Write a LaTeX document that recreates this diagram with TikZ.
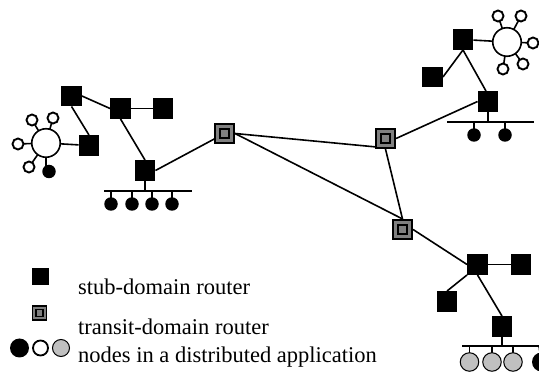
\documentclass[tikz,border=0pt]{standalone}
\usepackage{fontspec}
\setmainfont{Liberation Serif}
\usetikzlibrary{backgrounds,calc}
\definecolor{tgray}{RGB}{128,128,128}
\definecolor{lgray}{RGB}{192,192,192}
\begin{document}
\begin{tikzpicture}[x=1pt,y=-1pt,
  link/.style={line width=1.6pt,draw=black},
  stub/.style={rectangle,fill=black,minimum size=20.5pt,inner sep=0pt},
  legstub/.style={rectangle,fill=black,minimum size=17pt,inner sep=0pt},
  transit/.style={rectangle,draw=black,line width=1.8pt,fill=tgray,minimum size=19.3pt,inner sep=0pt,
    path picture={\draw[line width=1.8pt,fill=tgray]
      ([shift={(-4.6pt,-4.6pt)}]path picture bounding box.center) rectangle
      ([shift={(4.6pt,4.6pt)}]path picture bounding box.center);}},
  legtransit/.style={rectangle,draw=black,line width=1.5pt,fill=tgray,minimum size=14pt,inner sep=0pt,
    path picture={\draw[line width=1.4pt,fill=tgray]
      ([shift={(-3.6pt,-3.6pt)}]path picture bounding box.center) rectangle
      ([shift={(3.6pt,3.6pt)}]path picture bounding box.center);}},
  hub/.style={circle,draw=black,line width=1.6pt,fill=white,minimum size=28.5pt,inner sep=0pt},
  opennode/.style={circle,draw=black,line width=1.9pt,fill=white,minimum size=11pt,inner sep=0pt},
  fullnode/.style={circle,fill=black,minimum size=13.5pt,inner sep=0pt},
  graynode/.style={circle,draw=black,line width=1pt,fill=lgray,minimum size=18.5pt,inner sep=0pt},
  legtext/.style={anchor=base west,inner sep=0pt,font=\fontsize{22.5}{27}\selectfont}
]
\clip (0,0) rectangle (539,374);

% ---------- left stub domain ----------
\node[stub] (a) at (71.5,96) {};
\node[stub] (b) at (120.5,108.5) {};
\node[stub] (c) at (163,108.5) {};
\node[stub] (d) at (89,145.5) {};
\node[stub] (e) at (145,170.5) {};
\node[hub] (lc) at (46,143) {};
\node[opennode] (l1) at (32,120) {};
\node[opennode] (l2) at (53,118) {};
\node[opennode] (l3) at (18,144) {};
\node[opennode] (l4) at (29,167) {};
\node[fullnode] (l5) at (49,171.5) {};
\coordinate (lb1) at (104,191);
\coordinate (lb2) at (192,191);
\coordinate (le) at (145,191);
\node[fullnode] (lf1) at (111,204) {};
\node[fullnode] (lf2) at (132,204) {};
\node[fullnode] (lf3) at (152,204) {};
\node[fullnode] (lf4) at (172,204) {};

% ---------- transit routers ----------
\node[transit] (t1) at (224.5,133.5) {};
\node[transit] (t2) at (385.5,138.5) {};
\node[transit] (t3) at (402.5,229.5) {};

% ---------- top right stub domain ----------
\node[stub] (f) at (463,39.5) {};
\node[stub] (g) at (432.5,77) {};
\node[stub] (h) at (488,101.5) {};
\node[hub] (rc) at (507,42) {};
\node[opennode] (r1) at (498,16) {};
\node[opennode] (r2) at (521,16) {};
\node[opennode] (r3) at (533,43) {};
\node[opennode] (r4) at (523,64) {};
\node[opennode] (r5) at (503,69) {};
\coordinate (rb1) at (447,122);
\coordinate (rb2) at (534,122);
\coordinate (rh) at (488,122);
\node[fullnode] (rf1) at (474,135) {};
\node[fullnode] (rf2) at (505,135) {};

% ---------- bottom right stub domain ----------
\node[stub] (i) at (477.5,264.5) {};
\node[stub] (j) at (521,264.5) {};
\node[stub] (k) at (447,301.5) {};
\node[stub] (l) at (502,326.5) {};
\coordinate (bb1) at (462,346);
\coordinate (bb2) at (545,346);
\coordinate (bl) at (502,346);
\node[graynode] (g1) at (469.5,362) {};
\node[graynode] (g2) at (492,362) {};
\node[graynode] (g3) at (513,362) {};
\node[fullnode,minimum size=19pt] (g4) at (541.5,362) {};
\coordinate (g4top) at (539,346);

% ---------- connectors ----------
\begin{scope}[on background layer]
  % left
  \draw[link] (a.east) -- (b.west);
  \draw[link] (a.south) -- (d.north);
  \draw[link] (b.south) -- (e.north);
  \draw[link] (b) -- (c);
  \draw[link] (d) -- (lc);
  \foreach \n in {l1,l2,l3,l4} \draw[link] (lc.center) -- (\n.center);
  \draw[link] (lc.center) -- (lc.center |- l5.center);
  \draw[link] (lb1) -- (lb2);
  \draw[link] (e.south) -- (le);
  \foreach \n in {lf1,lf2,lf3,lf4} \draw[link] (\n.center |- lb1) -- (\n.center);
  \draw[link] (e.east) -- (t1.center);
  % transit
  \draw[link] (t1.east) -- ($(t2.south west)+(2,-2)$);
  \draw[link] (t1.east) -- (t3.north);
  \draw[link] (t2.south) -- (t3.north);
  % top right
  \draw[link] (t2.east) -- (h.west);
  \draw[link] (f.south) -- (g.east);
  \draw[link] (f.south) -- ($(h.north)+(-2,0)$);
  \draw[link] (f) -- (rc);
  \foreach \n in {r1,r2,r3,r4,r5} \draw[link] (rc.center) -- (\n.center);
  \draw[link] (rb1) -- (rb2);
  \draw[link] (h.south) -- (rh);
  \foreach \n in {rf1,rf2} \draw[link] (\n.center |- rb1) -- (\n.center);
  % bottom right
  \draw[link] (t3.east) -- (i.west);
  \draw[link] (i) -- (j);
  \draw[link] (i.south west) -- (k.north);
  \draw[link] (i.south) -- (l.north);
  \draw[link] (bb1) -- (bb2);
  \draw[link] (l.south) -- (bl);
  \foreach \n in {g1,g2,g3} \draw[link] (\n.center |- bb1) -- (\n.center);
  \draw[link] (g4top) -- (g4.center);
\end{scope}

% ---------- legend ----------
\node[legstub] (ks) at (40,277) {};
\node[legtransit] (kt) at (39.5,313) {};
\node[fullnode,minimum size=19pt] (kc1) at (19.5,348) {};
\node[circle,draw=black,line width=1.8pt,fill=white,minimum size=15pt,inner sep=0pt] (kc2) at (40.5,348) {};
\node[graynode,minimum size=17pt] (kc3) at (61,348) {};
\node[legtext] (kst) at (78,295) {stub-domain router};
\node[legtext] (ktt) at (78,335) {transit-domain router};
\node[legtext] (knt) at (78,363) {nodes in a distributed application};
\end{tikzpicture}
\end{document}
